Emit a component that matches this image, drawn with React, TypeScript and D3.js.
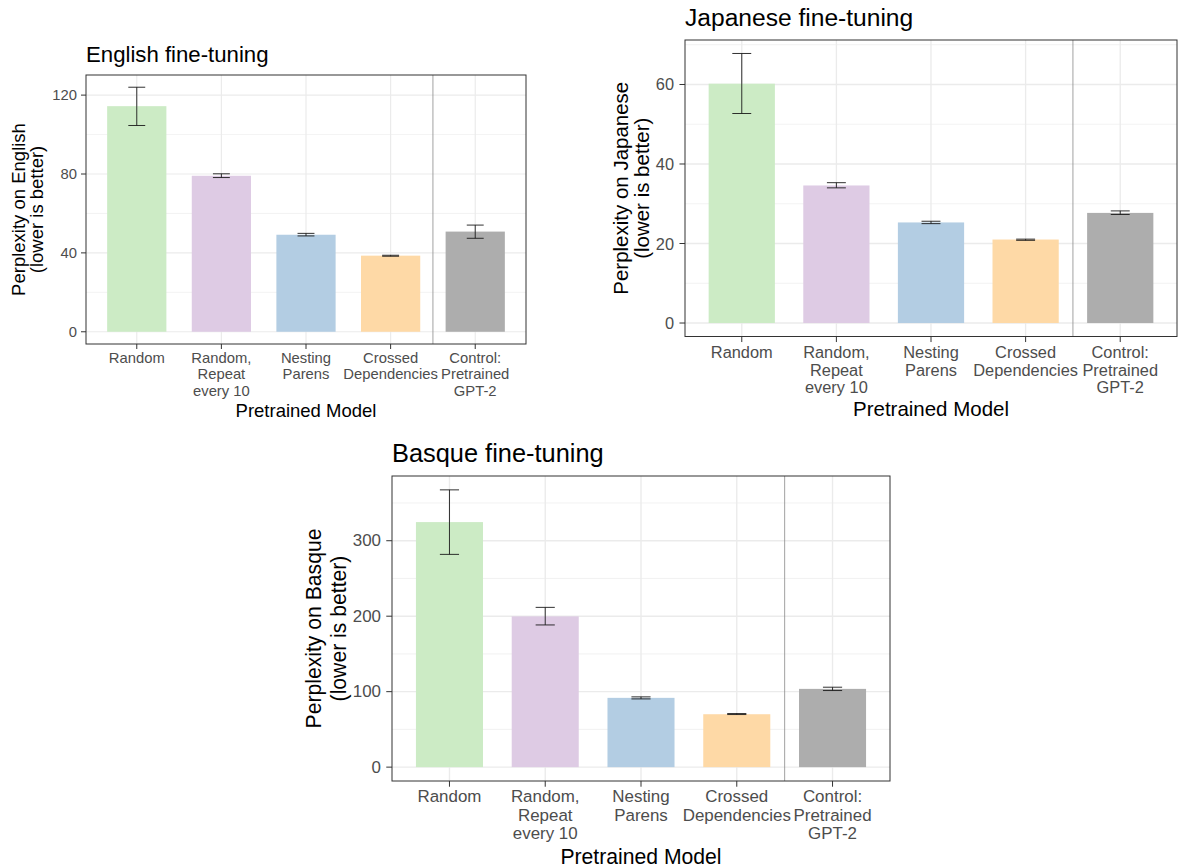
import React from 'react';
import * as d3 from 'd3';

// Shared categories and colours
const categories = [
  'Random',
  'Random,\nRepeat\nevery 10',
  'Nesting\nParens',
  'Crossed\nDependencies',
  'Control:\nPretrained\nGPT-2',
];
const barColors = ['#CCEBC5', '#DECBE4', '#B3CDE3', '#FED9A6', '#ADADAD'];

// English fine-tuning
const englishMean = [114.4, 79.1, 49.2, 38.6, 50.8];
const englishLow = [104.6, 78.2, 48.6, 38.3, 47.4];
const englishHigh = [124.0, 80.1, 49.9, 38.8, 54.1];
const englishTicks = [0, 40, 80, 120];

// Japanese fine-tuning
const japaneseMean = [60.2, 34.6, 25.3, 21.0, 27.7];
const japaneseLow = [52.7, 34.0, 25.0, 20.8, 27.3];
const japaneseHigh = [67.8, 35.3, 25.6, 21.1, 28.2];
const japaneseTicks = [0, 20, 40, 60];

// Basque fine-tuning
const basqueMean = [324.7, 199.8, 91.8, 70.1, 103.7];
const basqueLow = [281.9, 188.4, 90.4, 69.7, 101.5];
const basqueHigh = [367.4, 211.7, 93.1, 71.0, 105.9];
const basqueTicks = [0, 100, 200, 300];

const FONT = '"Liberation Sans", Arial, Helvetica, sans-serif';

interface PanelProps {
  title: string;
  yTitle: string;
  mean: number[];
  low: number[];
  high: number[];
  ticks: number[];
  left: number;
  top: number;
  right: number;
  bottom: number;
  k: number;
  titleY: number;
  tickLabelY: number;
  lineGap: number;
  axisTitleY: number;
  yTitleX: [number, number];
  yTickRight: number;
}

const Panel: React.FC<PanelProps> = (p) => {
  const x = d3.scalePoint<string>().domain(categories).range([p.left, p.right]).padding(0.6);
  const step = x.step();
  const barW = step * 0.7;
  const whisker = step * 0.2;

  const maxV = d3.max(p.high) as number;
  const y = d3.scaleLinear().domain([-0.05 * maxV, maxV * 1.05]).range([p.bottom, p.top]);

  const tStep = p.ticks[1] - p.ticks[0];
  const [d0, d1] = y.domain();
  const minor: number[] = [];
  for (let v = p.ticks[0] - tStep / 2; v <= d1; v += tStep) {
    if (v >= d0) minor.push(v);
  }

  const sepX = ((x(categories[3]) as number) + (x(categories[4]) as number)) / 2;
  const tickLen = 5 * p.k;
  const tickFont = 14.8 * p.k;
  const axisFont = 18.5 * p.k;
  const titleFont = 22.2 * p.k;
  const midY = (p.top + p.bottom) / 2;
  const midX = (p.left + p.right) / 2;
  const [yl1, yl2] = p.yTitle.split('\n');

  return (
    <g fontFamily={FONT}>
      <rect x={p.left} y={p.top} width={p.right - p.left} height={p.bottom - p.top} fill="#fff" />
      {/* minor grid */}
      {minor.map((v) => (
        <line key={'mn' + v} x1={p.left} x2={p.right} y1={y(v)} y2={y(v)} stroke="#EBEBEB" strokeWidth={0.6 * p.k} />
      ))}
      {/* major grid */}
      {p.ticks.map((v) => (
        <line key={'mj' + v} x1={p.left} x2={p.right} y1={y(v)} y2={y(v)} stroke="#EBEBEB" strokeWidth={1.2 * p.k} />
      ))}
      {categories.map((c) => (
        <line key={'gx' + c} x1={x(c)} x2={x(c)} y1={p.top} y2={p.bottom} stroke="#EBEBEB" strokeWidth={1.2 * p.k} />
      ))}
      {/* bars */}
      {categories.map((c, i) => (
        <rect
          key={'b' + c}
          x={(x(c) as number) - barW / 2}
          y={y(p.mean[i])}
          width={barW}
          height={y(0) - y(p.mean[i])}
          fill={barColors[i]}
        />
      ))}
      {/* error bars */}
      {categories.map((c, i) => {
        const cx = x(c) as number;
        return (
          <g key={'e' + c} stroke="#1a1a1a" strokeWidth={0.9}>
            <line x1={cx} x2={cx} y1={y(p.low[i])} y2={y(p.high[i])} />
            <line x1={cx - whisker / 2} x2={cx + whisker / 2} y1={y(p.low[i])} y2={y(p.low[i])} />
            <line x1={cx - whisker / 2} x2={cx + whisker / 2} y1={y(p.high[i])} y2={y(p.high[i])} />
          </g>
        );
      })}
      {/* separator before control */}
      <line x1={sepX} x2={sepX} y1={p.top} y2={p.bottom} stroke="#8a8a8a" strokeWidth={0.8} />
      {/* border */}
      <rect x={p.left} y={p.top} width={p.right - p.left} height={p.bottom - p.top} fill="none" stroke="#333333" strokeWidth={1} />
      {/* y ticks */}
      {p.ticks.map((v) => (
        <g key={'yt' + v}>
          <line x1={p.left - tickLen} x2={p.left} y1={y(v)} y2={y(v)} stroke="#333333" strokeWidth={1} />
          <text x={p.yTickRight} y={y(v)} textAnchor="end" dominantBaseline="central" fontSize={tickFont} fill="#4D4D4D">
            {v}
          </text>
        </g>
      ))}
      {/* x ticks */}
      {categories.map((c) => (
        <g key={'xt' + c}>
          <line x1={x(c)} x2={x(c)} y1={p.bottom} y2={p.bottom + tickLen} stroke="#333333" strokeWidth={1} />
          {c.split('\n').map((ln, j) => (
            <text
              key={j}
              x={x(c)}
              y={p.tickLabelY + j * p.lineGap}
              textAnchor="middle"
              dominantBaseline="central"
              fontSize={tickFont}
              fill="#4D4D4D"
            >
              {ln}
            </text>
          ))}
        </g>
      ))}
      {/* axis titles */}
      <text x={midX} y={p.axisTitleY} textAnchor="middle" dominantBaseline="central" fontSize={axisFont} fill="#000">
        Pretrained Model
      </text>
      <text
        transform={`translate(${p.yTitleX[0]},${midY}) rotate(-90)`}
        textAnchor="middle"
        dominantBaseline="central"
        fontSize={axisFont}
        fill="#000"
      >
        {yl1}
      </text>
      <text
        transform={`translate(${p.yTitleX[1]},${midY}) rotate(-90)`}
        textAnchor="middle"
        dominantBaseline="central"
        fontSize={axisFont}
        fill="#000"
      >
        {yl2}
      </text>
      {/* title */}
      <text x={p.left} y={p.titleY} dominantBaseline="central" fontSize={titleFont} fill="#000">
        {p.title}
      </text>
    </g>
  );
};

export default function App() {
  return (
    <div style={{ position: 'absolute', left: 0, top: 0 }}>
      <svg width={1178} height={868} style={{ display: 'block', background: '#fff' }}>
        <Panel
          title="English fine-tuning"
          yTitle={'Perplexity on English\n(lower is better)'}
          mean={englishMean}
          low={englishLow}
          high={englishHigh}
          ticks={englishTicks}
          left={86}
          top={75}
          right={526}
          bottom={344}
          k={1}
          titleY={54}
          tickLabelY={358}
          lineGap={16.3}
          axisTitleY={410}
          yTitleX={[18, 36]}
          yTickRight={77}
        />
        <Panel
          title="Japanese fine-tuning"
          yTitle={'Perplexity on Japanese\n(lower is better)'}
          mean={japaneseMean}
          low={japaneseLow}
          high={japaneseHigh}
          ticks={japaneseTicks}
          left={685}
          top={40}
          right={1177}
          bottom={336.5}
          k={1.108}
          titleY={17}
          tickLabelY={351.7}
          lineGap={17.8}
          axisTitleY={408}
          yTitleX={[620, 641]}
          yTickRight={674}
        />
        <Panel
          title="Basque fine-tuning"
          yTitle={'Perplexity on Basque\n(lower is better)'}
          mean={basqueMean}
          low={basqueLow}
          high={basqueHigh}
          ticks={basqueTicks}
          left={392}
          top={476}
          right={890}
          bottom={781}
          k={1.144}
          titleY={452.7}
          tickLabelY={796.7}
          lineGap={18.6}
          axisTitleY={856}
          yTitleX={[313, 338]}
          yTickRight={381}
        />
      </svg>
    </div>
  );
}
